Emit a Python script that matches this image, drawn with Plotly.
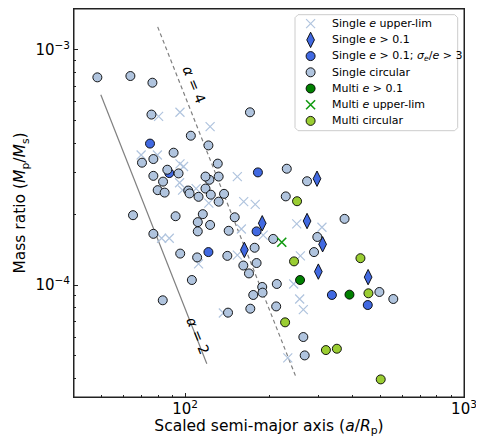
import plotly.graph_objects as go

# ---------------- data ----------------
single_circ_a = [48.5, 63.7, 76.4, 75.8, 170.9, 104.9, 121.3, 77.0, 70.1, 91.0, 131.0, 86.4, 94.8, 77.0,
                 83.4, 79.8, 84.5, 122.3, 132.0, 118.4, 102.7, 103.8, 111.8, 118.4, 123.7, 132.0, 138.0,
                 231.6, 273.8, 229.7, 373.1, 65.1, 92.5, 115.8, 111.1, 111.1, 123.0, 150.7, 143.4, 77.0,
                 96.1, 110.5, 141.8, 177.6, 207.0, 298.0, 290.0, 161.8, 169.5, 180.5, 105.8, 189.1, 189.6,
                 175.6, 213.3, 83.2, 142.6, 171.4, 212.2, 265.5, 268.5, 497.4, 557.9]
single_circ_q = [7.63e-4, 7.73e-4, 7.24e-4, 5.30e-4, 5.42e-4, 4.31e-4, 3.92e-4, 3.43e-4, 3.31e-4, 3.65e-4,
                 3.28e-4, 3.09e-4, 2.98e-4, 2.91e-4, 2.75e-4, 2.53e-4, 2.47e-4, 2.80e-4, 2.89e-4, 2.89e-4,
                 2.52e-4, 2.45e-4, 2.37e-4, 2.57e-4, 2.42e-4, 2.26e-4, 2.44e-4, 3.12e-4, 2.76e-4, 2.38e-4,
                 1.91e-4, 1.98e-4, 1.96e-4, 2.00e-4, 1.85e-4, 1.69e-4, 1.80e-4, 1.94e-4, 1.70e-4, 1.65e-4,
                 1.36e-4, 1.31e-4, 1.33e-4, 1.44e-4, 1.57e-4, 1.60e-4, 1.38e-4, 1.21e-4, 1.12e-4, 1.24e-4,
                 1.05e-4, 9.81e-5, 9.28e-5, 9.07e-5, 1.01e-4, 8.61e-5, 7.63e-5, 7.93e-5, 8.11e-5, 6.01e-5,
                 5.02e-5, 9.34e-5, 8.72e-5]

single_ecc_sig_a = [74.9, 87.8, 182.5, 180.5, 121.3, 336.1, 451.9]
single_ecc_sig_q = [3.99e-4, 2.99e-4, 3.01e-4, 1.69e-4, 1.38e-4, 9.07e-5, 8.22e-5]

single_ecc_a = [297.2, 189.1, 273.8, 311.3, 163.2, 300.5, 453.2]
single_ecc_q = [2.83e-4, 1.83e-4, 1.87e-4, 1.49e-4, 1.41e-4, 1.14e-4, 1.08e-4]

single_ul_a = [80.4, 95.9, 123.0, 69.6, 79.6, 95.9, 98.8, 95.6, 98.0, 109.6, 121.7, 154.0, 162.3, 178.5,
               159.2, 190.6, 251.4, 309.6, 82.4, 87.8, 111.8, 154.0, 259.1, 245.2, 257.6, 265.5, 137.2, 233.5]
single_ul_q = [5.21e-4, 5.42e-4, 4.71e-4, 3.57e-4, 3.57e-4, 3.27e-4, 3.19e-4, 2.72e-4, 2.53e-4, 2.57e-4,
               2.23e-4, 2.89e-4, 2.26e-4, 2.20e-4, 1.73e-4, 1.63e-4, 1.82e-4, 1.76e-4, 1.58e-4, 1.58e-4,
               1.23e-4, 1.34e-4, 1.33e-4, 1.01e-4, 8.72e-5, 7.86e-5, 7.60e-5, 4.90e-5]

multi_ecc_a = [258.4, 388.6]
multi_ecc_q = [1.05e-4, 9.10e-5]

multi_ul_a = [222.2]
multi_ul_q = [1.52e-4]

multi_circ_a = [252.1, 245.9, 425.4, 454.4, 228.4, 319.9, 350.2, 502.9]
multi_circ_q = [2.27e-4, 1.26e-4, 1.30e-4, 9.22e-5, 6.94e-5, 5.29e-5, 5.36e-5, 3.97e-5]

alpha2_a = [49.9, 119.7]
alpha2_q = [6.44e-4, 4.63e-5]
alpha4_a = [79.8, 248.7]
alpha4_q = [1.25e-3, 4.12e-5]

x_tick_vals = [100, 1000]
x_tick_text = ["10<sup>2</sup>", "10<sup>3</sup>"]
y_tick_vals = [1e-4, 1e-3]
y_tick_text = ["10<sup>\u22124</sup>", "10<sup>\u22123</sup>"]

legend_labels = [
    "Single <i>e</i> upper-lim",
    "Single <i>e</i> > 0.1",
    "Single <i>e</i> > 0.1; <i>σ<sub>e</sub></i>/<i>e</i> > 3",
    "Single circular",
    "Multi <i>e</i> > 0.1",
    "Multi <i>e</i> upper-lim",
    "Multi circular",
]

# ---------------- styles ----------------
LSB = "#b0c4de"
ROYAL = "#4169e1"
GREEN = "#008000"
YG = "#9acd32"
FONT = "DejaVu Sans"
EDGE = dict(color="black", width=0.9)

styles = [
    dict(symbol="x-thin", size=9, line=dict(color=LSB, width=1.2)),
    dict(symbol="diamond-tall", size=11, color=ROYAL, line=EDGE),
    dict(symbol="circle", size=9, color=ROYAL, line=EDGE),
    dict(symbol="circle", size=9, color=LSB, line=EDGE),
    dict(symbol="circle", size=9, color=GREEN, line=EDGE),
    dict(symbol="x-thin", size=9, line=dict(color="#109a10", width=1.6)),
    dict(symbol="circle", size=9, color=YG, line=EDGE),
]
series = [
    (single_ul_a, single_ul_q),
    (single_ecc_a, single_ecc_q),
    (single_ecc_sig_a, single_ecc_sig_q),
    (single_circ_a, single_circ_q),
    (multi_ecc_a, multi_ecc_q),
    (multi_ul_a, multi_ul_q),
    (multi_circ_a, multi_circ_q),
]

fig = go.Figure()

fig.add_trace(go.Scatter(x=alpha2_a, y=alpha2_q, mode="lines", showlegend=False,
                         line=dict(color="#808080", width=1.2), hoverinfo="skip"))
fig.add_trace(go.Scatter(x=alpha4_a, y=alpha4_q, mode="lines", showlegend=False,
                         line=dict(color="#808080", width=1.2, dash="4px,3px"), hoverinfo="skip"))

for (xa, ya), st, lab in zip(series, styles, legend_labels):
    fig.add_trace(go.Scatter(x=xa, y=ya, mode="markers", name=lab, marker=st, showlegend=False))

# ---------------- custom legend (overlay axes in plot-pixel units) ----------------
PW, PH = 390, 388  # plot area size in px
box_l, box_r, box_t, box_b, rad = 221, 383.7, 5.7, 121.7, 3
box_x = [box_l + rad, box_r - rad, box_r, box_r, box_r - rad, box_l + rad, box_l, box_l, box_l + rad]
box_y = [box_t, box_t, box_t + rad, box_b - rad, box_b, box_b, box_b - rad, box_t + rad, box_t]
fig.add_trace(go.Scatter(x=box_x, y=box_y, xaxis="x2", yaxis="y2", mode="lines", fill="toself",
                         fillcolor="rgba(255,255,255,0.8)", line=dict(color="#cccccc", width=1),
                         showlegend=False, hoverinfo="skip"))
entry_y0, entry_dy, mark_x, text_x = 14.7, 16.2, 236.6, 255.6
for i, (st, lab) in enumerate(zip(styles, legend_labels)):
    yy = entry_y0 + i * entry_dy
    fig.add_trace(go.Scatter(x=[mark_x], y=[yy], xaxis="x2", yaxis="y2", mode="markers",
                             marker=st, showlegend=False, hoverinfo="skip"))
    fig.add_annotation(x=text_x, y=yy, xref="x2", yref="y2", text=lab, showarrow=False,
                       xanchor="left", yanchor="middle",
                       font=dict(family=FONT, size=11, color="black"))

fig.add_annotation(x=2.034, y=-3.149, xref="x", yref="y", text="<i>α</i> = 4", showarrow=False,
                   textangle=68, font=dict(family=FONT, size=14, color="black"))
fig.add_annotation(x=2.046, y=-4.218, xref="x", yref="y", text="<i>α</i> = 2", showarrow=False,
                   textangle=68, font=dict(family=FONT, size=14, color="black"))

# axes frame
fig.add_shape(type="rect", xref="paper", yref="paper", x0=0, x1=1, y0=0, y1=1,
              line=dict(color="#222222", width=1), fillcolor="rgba(0,0,0,0)", layer="above")

axis_common = dict(showline=True, linecolor="#222222", linewidth=1, mirror=True, automargin=False,
                   ticks="inside", ticklen=4, tickcolor="#222222", showgrid=False, zeroline=False,
                   tickfont=dict(family=FONT, size=15, color="black"), tickmode="array",
                   minor=dict(ticks="inside", ticklen=2, tickcolor="#222222", dtick="D1", showgrid=False))

fig.update_layout(
    xaxis=dict(type="log", range=[1.602, 3.0], tickvals=x_tick_vals, ticktext=x_tick_text,
               ticklabelstandoff=-2,
               title=dict(text="Scaled semi-major axis (<i>a</i>/<i>R</i><sub>p</sub>)",
                          font=dict(family=FONT, size=15.5, color="black"), standoff=4),
               **axis_common),
    yaxis=dict(type="log", range=[-4.476, -2.827], tickvals=y_tick_vals, ticktext=y_tick_text,
               title=dict(text="Mass ratio (<i>M</i><sub>p</sub>/<i>M</i><sub>s</sub>)",
                          font=dict(family=FONT, size=15.5, color="black"), standoff=5),
               **axis_common),
    xaxis2=dict(overlaying="x", anchor="y2", range=[0, PW], visible=False, fixedrange=True),
    yaxis2=dict(overlaying="y", anchor="x2", range=[PH, 0], visible=False, fixedrange=True),
    # the page body adds an 8px offset; the figure is sized to fill the rest of the window
    width=476, height=429,
    margin=dict(l=66, r=20, t=1, b=40),
    paper_bgcolor="white", plot_bgcolor="white",
    font=dict(family=FONT, color="black"),
    showlegend=False,
)

fig.write_html("out.html")
